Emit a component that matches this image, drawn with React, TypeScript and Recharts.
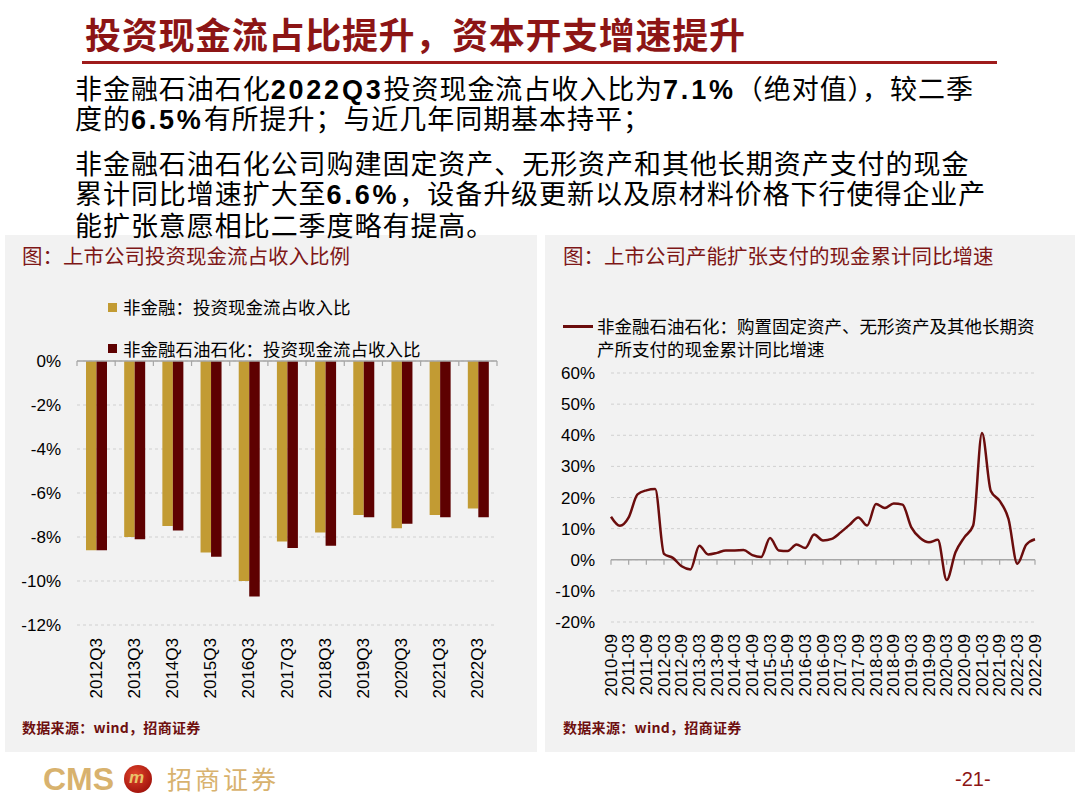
import React from 'react';
import {
  BarChart, Bar, LineChart, Line, XAxis, YAxis, CartesianGrid, ReferenceLine,
} from 'recharts';

// 左图：投资现金流占收入比（%）
const barYears = ['2012Q3', '2013Q3', '2014Q3', '2015Q3', '2016Q3', '2017Q3', '2018Q3', '2019Q3', '2020Q3', '2021Q3', '2022Q3'];
const nonFinancial = [-8.6, -8.0, -7.5, -8.7, -10.0, -8.2, -7.8, -7.0, -7.6, -7.0, -6.7];
const nonFinExOil = [-8.6, -8.1, -7.7, -8.9, -10.7, -8.5, -8.4, -7.1, -7.4, -7.1, -7.1];
const barTicks = [0, -2, -4, -6, -8, -10, -12];

// 右图：购建长期资产支付现金累计同比（%）
const quarters = [
  '2010-09', '2010-12', '2011-03', '2011-06', '2011-09', '2011-12', '2012-03', '2012-06', '2012-09', '2012-12',
  '2013-03', '2013-06', '2013-09', '2013-12', '2014-03', '2014-06', '2014-09', '2014-12', '2015-03', '2015-06',
  '2015-09', '2015-12', '2016-03', '2016-06', '2016-09', '2016-12', '2017-03', '2017-06', '2017-09', '2017-12',
  '2018-03', '2018-06', '2018-09', '2018-12', '2019-03', '2019-06', '2019-09', '2019-12', '2020-03', '2020-06',
  '2020-09', '2020-12', '2021-03', '2021-06', '2021-09', '2021-12', '2022-03', '2022-06', '2022-09',
];
const capexGrowth = [
  13.8, 10.9, 13.6, 21.0, 22.3, 22.7, 1.9, 0.6, -2.1, -3.1,
  4.5, 1.7, 2.2, 3.0, 3.0, 3.1, 1.5, 0.9, 7.0, 3.0,
  2.8, 4.9, 3.8, 8.1, 6.2, 6.7, 8.8, 11.2, 13.6, 11.0,
  17.9, 16.6, 18.1, 17.7, 10.4, 7.0, 5.6, 6.4, -6.5, 2.4,
  7.2, 11.0, 40.7, 22.1, 18.9, 13.1, -1.3, 4.8, 6.6,
];
const lineTicks = [60, 50, 40, 30, 20, 10, 0, -10, -20];

const barData = barYears.map((year, i) => ({ year, a: nonFinancial[i], b: nonFinExOil[i] }));
const lineData = quarters.map((q, i) => ({ q, v: capexGrowth[i] }));

const GOLD = '#C29B33';
const MAROON = '#5E0101';
const LINE = '#6B0D0D';
const TITLE = '#7E1717';
const SANS = '"Liberation Sans", Arial, sans-serif';
const NARROW = '"Liberation Sans Narrow", "Liberation Sans", sans-serif';
const CJK = '"Noto Sans CJK SC", "Noto Sans", sans-serif';

function VerticalTick({ x, y, payload }: any) {
  return (
    <text transform={`translate(${x},${y}) rotate(-90)`} textAnchor="end" dominantBaseline="central"
      fontSize={17} fontFamily={SANS} fill="#000">
      {payload.value}
    </text>
  );
}

// zero line with small tick marks hanging below it
function zeroAxis(count: number) {
  return (props: any) => {
    const { x1, x2, y1 } = props;
    const step = (x2 - x1) / count;
    const marks = [];
    for (let i = 0; i <= count; i++) {
      const x = x1 + i * step;
      marks.push(<line key={i} x1={x} x2={x} y1={y1} y2={y1 + 5} stroke="#A6A6A6" strokeWidth={1.2} />);
    }
    return (
      <g>
        <line x1={x1} x2={x2} y1={y1} y2={y1} stroke="#A6A6A6" strokeWidth={1.4} />
        {marks}
      </g>
    );
  };
}

const abs = (l: number, t: number, extra: React.CSSProperties = {}): React.CSSProperties => ({
  position: 'absolute', left: l, top: t, whiteSpace: 'nowrap', ...extra,
});

const bodyStyle: React.CSSProperties = { fontFamily: CJK, fontSize: 27, lineHeight: '30px', letterSpacing: 0.95, color: '#000' };
const num: React.CSSProperties = { fontFamily: SANS, fontWeight: 700, letterSpacing: 2.8, display: 'inline-block', lineHeight: '30px' };
const legendText: React.CSSProperties = { fontFamily: CJK, fontSize: 17.5, lineHeight: '22px', color: '#000' };
const sourceText: React.CSSProperties = { fontFamily: CJK, fontSize: 14, lineHeight: '20px', fontWeight: 700, color: '#6E0F0F', letterSpacing: 0.3 };
const chartTitle: React.CSSProperties = { fontFamily: CJK, fontSize: 20.5, lineHeight: '24px', color: TITLE };

export default function App() {
  return (
    <div style={{ position: 'absolute', left: 0, top: 0, width: 1080, height: 797, background: '#fff', overflow: 'hidden' }}>
      {/* 左图 */}
      <div style={abs(5, 235, { width: 532, height: 517, background: '#F2F2F2' })} />
      <div style={abs(22, 243, chartTitle)}>图：上市公司投资现金流占收入比例</div>
      <div style={abs(108, 303, { width: 9, height: 9, background: GOLD })} />
      <div style={abs(123, 296, legendText)}>非金融：投资现金流占收入比</div>
      <div style={abs(108, 344, { width: 9, height: 9, background: MAROON })} />
      <div style={abs(123, 338, legendText)}>非金融石油石化：投资现金流占收入比</div>
      <div style={abs(5, 235)}>
        <BarChart width={532} height={517} data={barData} barGap={0} margin={{ top: 126, right: 40, left: 0, bottom: 40 }}>
          <CartesianGrid vertical={false} strokeDasharray="3 3" stroke="#D0D0D0" />
          <XAxis dataKey="year" height={87} interval={0} axisLine={false} tickLine={false} tickSize={0} tickMargin={13} tick={<VerticalTick />} />
          <YAxis width={72} domain={[-12, 0]} ticks={barTicks} axisLine={false} tickLine={false} tickSize={0} tickMargin={16}
            tickFormatter={(v: number) => `${v}%`} tick={{ fontSize: 17, fontFamily: SANS, fill: '#000' }} />
          <Bar dataKey="a" fill={GOLD} barSize={10.5} isAnimationActive={false} />
          <Bar dataKey="b" fill={MAROON} barSize={10.5} isAnimationActive={false} />
          <ReferenceLine y={0} shape={zeroAxis(barYears.length)} />
        </BarChart>
      </div>
      <div style={abs(22, 717, sourceText)}>数据来源：wind，招商证券</div>

      {/* 右图 */}
      <div style={abs(545, 235, { width: 530, height: 517, background: '#F2F2F2' })} />
      <div style={abs(563, 243, chartTitle)}>图：上市公司产能扩张支付的现金累计同比增速</div>
      <div style={abs(563, 325, { width: 30, height: 2.5, background: LINE })} />
      <div style={abs(597, 315, legendText)}>非金融石油石化：购置固定资产、无形资产及其他长期资</div>
      <div style={abs(597, 338, legendText)}>产所支付的现金累计同比增速</div>
      <div style={abs(546, 235)}>
        <LineChart width={529} height={517} data={lineData} margin={{ top: 138, right: 40, left: 0, bottom: 40 }}>
          <CartesianGrid vertical={false} strokeDasharray="3 3" stroke="#D0D0D0" />
          <XAxis dataKey="q" height={90} interval={1} axisLine={false} tickLine={false} tickSize={0} tickMargin={12} tick={<VerticalTick />} />
          <YAxis width={65} domain={[-20, 60]} ticks={lineTicks} axisLine={false} tickLine={false} tickSize={0} tickMargin={16}
            tickFormatter={(v: number) => `${v}%`} tick={{ fontSize: 17, fontFamily: SANS, fill: '#000' }} />
          <ReferenceLine y={0} shape={zeroAxis((quarters.length - 1) / 2)} />
          <Line dataKey="v" type="monotone" stroke={LINE} strokeWidth={2.5} dot={false} isAnimationActive={false} />
        </LineChart>
      </div>
      <div style={abs(563, 717, sourceText)}>数据来源：wind，招商证券</div>

      {/* 标题与正文 */}
      <div style={abs(85, 12, { fontFamily: CJK, fontSize: 36, lineHeight: '42px', fontWeight: 700, letterSpacing: 0.7, color: '#8C1515' })}>
        投资现金流占比提升，资本开支增速提升
      </div>
      <div style={abs(82, 61, { width: 915, height: 3, background: '#9E1B1B' })} />

      <div style={abs(75, 73, bodyStyle)}>非金融石油石化<span style={num}>2022Q3</span>投资现金流占收入比为<span style={num}>7.1%</span>（绝对值），较二季</div>
      <div style={abs(75, 103, bodyStyle)}>度的<span style={num}>6.5%</span>有所提升；与近几年同期基本持平；</div>
      <div style={abs(75, 148, bodyStyle)}>非金融石油石化公司购建固定资产、无形资产和其他长期资产支付的现金</div>
      <div style={abs(75, 178, bodyStyle)}>累计同比增速扩大至<span style={num}>6.6%</span>，设备升级更新以及原材料价格下行使得企业产</div>
      <div style={abs(75, 210, bodyStyle)}>能扩张意愿相比二季度略有提高。</div>

      {/* 页脚 */}
      <div style={abs(43, 764, { fontFamily: NARROW, fontSize: 32, lineHeight: '30px', fontWeight: 700, color: '#D8B26E' })}>CMS</div>
      <div style={abs(124, 765, { width: 28, height: 28, borderRadius: 14, background: 'radial-gradient(circle at 40% 35%, #E0452B, #A8170F 70%, #7A0C08)' })} />
      <div style={abs(129, 767, { fontFamily: SANS, fontSize: 17, lineHeight: '22px', fontWeight: 700, fontStyle: 'italic', color: '#E9C46A' })}>m</div>
      <div style={abs(167, 761, { fontFamily: CJK, fontSize: 25, lineHeight: '34px', letterSpacing: 3, color: '#D8B26E' })}>招商证券</div>
      <div style={abs(955, 767, { fontFamily: NARROW, fontSize: 20, lineHeight: '24px', color: '#8C1515' })}>-21-</div>
    </div>
  );
}
